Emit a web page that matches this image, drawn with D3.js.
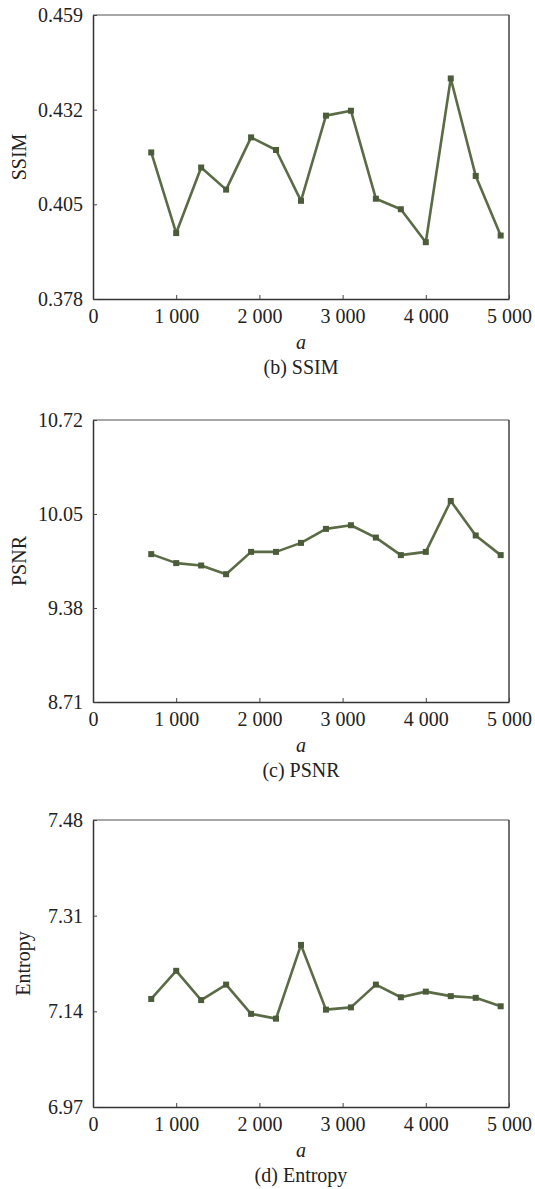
<!DOCTYPE html>
<html>
<head>
<meta charset="utf-8">
<script src="https://cdn.jsdelivr.net/npm/d3@7"></script>
<style>
  body { margin: 0; background: #fff; }
  text { font-family: "Liberation Serif", "Times New Roman", serif; fill: #222; }
</style>
</head>
<body>
<svg width="535" height="1189"></svg>
<script>
// x values (a)
var aValues = [700, 1000, 1300, 1600, 1900, 2200, 2500, 2800, 3100, 3400, 3700, 4000, 4300, 4600, 4900];
var xTicks = [0, 1000, 2000, 3000, 4000, 5000];
var xTickLabels = ["0", "1 000", "2 000", "3 000", "4 000", "5 000"];

// (b) SSIM
var ssimValues = [0.4198, 0.3968, 0.4155, 0.4092, 0.4241, 0.4205, 0.4060, 0.4303, 0.4317, 0.4066, 0.4036, 0.3942, 0.4409, 0.4131, 0.3961];
var ssimTicks = [0.378, 0.405, 0.432, 0.459];
var ssimTickLabels = ["0.378", "0.405", "0.432", "0.459"];

// (c) PSNR
var psnrValues = [9.764, 9.700, 9.683, 9.621, 9.780, 9.780, 9.844, 9.944, 9.970, 9.882, 9.757, 9.780, 10.143, 9.897, 9.757];
var psnrTicks = [8.71, 9.38, 10.05, 10.72];
var psnrTickLabels = ["8.71", "9.38", "10.05", "10.72"];

// (d) Entropy
var entropyValues = [7.162, 7.212, 7.160, 7.1875, 7.1355, 7.127, 7.258, 7.143, 7.147, 7.1875, 7.165, 7.175, 7.167, 7.164, 7.149];
var entropyTicks = [6.97, 7.14, 7.31, 7.48];
var entropyTickLabels = ["6.97", "7.14", "7.31", "7.48"];

var svg = d3.select("svg");

var left = 93, right = 509;

var x = d3.scaleLinear().domain([0, 5000]).range([left, right]);

// パネルを1つ描画
function drawPanel(values, ticks, tickLabels, top, bottom, yTitle, yTitleX, caption) {
  var y = d3.scaleLinear().domain([ticks[0], ticks[ticks.length - 1]]).range([bottom, top]);
  var g = svg.append("g");

  // 上と右の枠
  g.append("line")
      .attr("x1", left).attr("x2", right).attr("y1", top).attr("y2", top)
      .attr("stroke", "#8a8a8a").attr("stroke-width", 1.5);
  g.append("line")
      .attr("x1", right).attr("x2", right).attr("y1", top).attr("y2", bottom)
      .attr("stroke", "#444").attr("stroke-width", 1.5);

  var xAxis = g.append("g")
      .attr("transform", "translate(0," + bottom + ")")
      .call(d3.axisBottom(x)
          .tickValues(xTicks)
          .tickFormat(function(d, i) { return xTickLabels[i]; })
          .tickSizeInner(-4).tickSizeOuter(0).tickPadding(10));

  var yAxis = g.append("g")
      .attr("transform", "translate(" + left + ",0)")
      .call(d3.axisLeft(y)
          .tickValues(ticks)
          .tickFormat(function(d, i) { return tickLabels[i]; })
          .tickSizeInner(-4).tickSizeOuter(0).tickPadding(10));

  [xAxis, yAxis].forEach(function(ax) {
    ax.select(".domain").attr("stroke", "#333").attr("stroke-width", 1.5);
    ax.selectAll(".tick line").attr("stroke", "#444");
    ax.selectAll(".tick text")
        .attr("font-family", "'Liberation Serif', 'Times New Roman', serif")
        .attr("font-size", 20).attr("fill", "#222");
  });
  // x=0 の目盛り線は軸と重なるので消す
  xAxis.selectAll(".tick").filter(function(d) { return d === 0; }).select("line").remove();

  var line = d3.line()
      .x(function(d, i) { return x(aValues[i]); })
      .y(function(d) { return y(d); });

  g.append("path")
      .datum(values)
      .attr("fill", "none")
      .attr("stroke", "#5b6b46")
      .attr("stroke-width", 2.6)
      .attr("stroke-linejoin", "round")
      .attr("d", line);

  g.selectAll("rect.pt")
      .data(values)
      .enter().append("rect")
      .attr("class", "pt")
      .attr("x", function(d, i) { return x(aValues[i]) - 3; })
      .attr("y", function(d) { return y(d) - 3; })
      .attr("width", 6).attr("height", 6)
      .attr("fill", "#4c5c3a");

  g.append("text")
      .attr("transform", "translate(" + yTitleX + "," + ((top + bottom) / 2) + ") rotate(-90)")
      .attr("text-anchor", "middle")
      .attr("font-size", 20)
      .text(yTitle);

  g.append("text")
      .attr("x", (left + right) / 2).attr("y", bottom + 50)
      .attr("text-anchor", "middle")
      .attr("font-size", 20).attr("font-style", "italic")
      .text("a");

  g.append("text")
      .attr("x", (left + right) / 2).attr("y", bottom + 75)
      .attr("text-anchor", "middle")
      .attr("font-size", 20)
      .text(caption);
}

drawPanel(ssimValues, ssimTicks, ssimTickLabels, 15, 299, "SSIM", 26, "(b) SSIM");
drawPanel(psnrValues, psnrTicks, psnrTickLabels, 420, 702, "PSNR", 26, "(c) PSNR");
drawPanel(entropyValues, entropyTicks, entropyTickLabels, 820, 1107, "Entropy", 30, "(d) Entropy");
</script>
</body>
</html>
